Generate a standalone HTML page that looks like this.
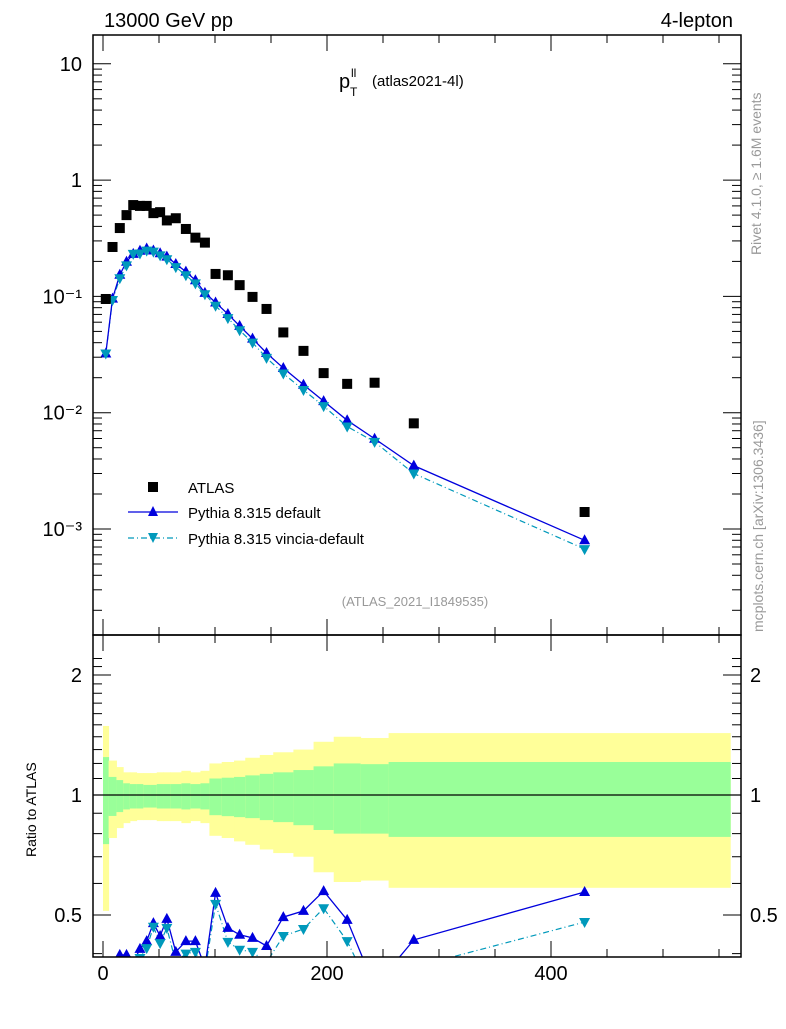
<!DOCTYPE html>
<html><head><meta charset="utf-8"><style>
html,body{margin:0;padding:0;background:#fff;}
svg text{font-family:"Liberation Sans",sans-serif;}
</style></head><body>
<svg id="chart" width="786" height="1024" viewBox="0 0 786 1024" xmlns="http://www.w3.org/2000/svg">
<g id="bands"></g>
<g id="ratio"></g>
<g id="main"></g>
<g id="axes"></g>
<text x="104" y="27" font-size="20">13000 GeV pp</text>
<text x="733" y="27" font-size="20" text-anchor="end">4-lepton</text>
<g>
<text x="339" y="88" font-size="20">p</text>
<text x="351" y="77" font-size="12">ll</text>
<text x="350" y="96" font-size="12">T</text>
<text x="372" y="86" font-size="15">(atlas2021-4l)</text>
</g>
<text x="415" y="606" font-size="13" fill="#999" text-anchor="middle">(ATLAS_2021_I1849535)</text>
<text transform="translate(761,255) rotate(-90)" font-size="14" fill="#999">Rivet 4.1.0, ≥ 1.6M events</text>
<text transform="translate(763,632) rotate(-90)" font-size="14" fill="#999">mcplots.cern.ch [arXiv:1306.3436]</text>
<text transform="translate(36,857) rotate(-90)" font-size="14">Ratio to ATLAS</text>
<g>
<rect x="148" y="482" width="10" height="10" fill="#000"/>
<text x="188" y="493" font-size="15">ATLAS</text>
<line x1="128" y1="512" x2="178" y2="512" stroke="#0000dd" stroke-width="1.3"/>
<polygon points="153,506 158,516 148,516" fill="#0000dd"/>
<text x="188" y="518" font-size="15">Pythia 8.315 default</text>
<line x1="128" y1="538" x2="178" y2="538" stroke="#0099bb" stroke-width="1.3" stroke-dasharray="6,3,1,3"/>
<polygon points="148,533 158,533 153,543" fill="#0099bb"/>
<text x="188" y="544" font-size="15">Pythia 8.315 vincia-default</text>
</g>
</svg>
<script>
const binEdges=[0,5,12,18,24,30,36,42,48,54,60,70,78,87,95,106,117,127,140,152,170,188,206,230,255,300,560];
const xCenters=[2.5,8.5,15,21,27,33,39,45,51,57,65,74,82.5,91,100.5,111.5,122,133.5,146,161,179,197,218,242.5,277.5,430];
const atlasValues=[0.095,0.266,0.387,0.50,0.61,0.60,0.60,0.52,0.53,0.45,0.47,0.38,0.32,0.29,0.156,0.152,0.125,0.099,0.078,0.049,0.034,0.0219,0.0177,0.0181,0.0081,0.0014];
const defaultRatio=[0.34,0.36,0.397,0.397,0.38,0.411,0.43,0.477,0.443,0.489,0.404,0.43,0.43,0.37,0.568,0.464,0.446,0.438,0.418,0.494,0.512,0.574,0.486,0.33,0.433,0.571];
const vinciaRatio=[0.34,0.35,0.37,0.37,0.38,0.39,0.413,0.467,0.425,0.464,0.38,0.40,0.404,0.36,0.533,0.428,0.409,0.404,0.38,0.443,0.461,0.52,0.43,0.31,0.37,0.48];
const yellowUp=[1.49,1.22,1.175,1.14,1.14,1.135,1.135,1.135,1.14,1.14,1.14,1.15,1.14,1.15,1.20,1.21,1.22,1.24,1.26,1.28,1.30,1.36,1.40,1.39,1.43,1.43];
const greenUp=[1.245,1.11,1.09,1.07,1.065,1.065,1.06,1.06,1.065,1.065,1.065,1.07,1.065,1.07,1.10,1.105,1.11,1.12,1.13,1.14,1.155,1.18,1.20,1.195,1.21,1.21];
const greenDown=[0.753,0.886,0.906,0.92,0.925,0.925,0.93,0.93,0.925,0.925,0.925,0.92,0.925,0.92,0.89,0.885,0.88,0.875,0.865,0.855,0.84,0.817,0.80,0.80,0.785,0.785];
const yellowDown=[0.512,0.78,0.826,0.85,0.86,0.865,0.865,0.865,0.86,0.86,0.86,0.85,0.86,0.85,0.79,0.78,0.765,0.75,0.73,0.715,0.70,0.64,0.605,0.61,0.585,0.585];
const xTicks=[0,200,400];
const mainTicks=[[10,"10"],[1,"1"],[0.1,"10⁻¹"],[0.01,"10⁻²"],[0.001,"10⁻³"]];
const ratioTicks=[[2,"2"],[1,"1"],[0.5,"0.5"]];

const NS="http://www.w3.org/2000/svg";
const L=93,R=741,T=35,MB=635,RB=957;
const X=v=>103+v*1.12;
const Y=v=>529-(Math.log10(v)+3)*116.3;
const YR=v=>795-Math.log10(v)*398.6;
function mk(tag,attrs,parent){const e=document.createElementNS(NS,tag);for(const k in attrs)e.setAttribute(k,attrs[k]);parent.appendChild(e);return e;}
const bands=document.getElementById('bands'),ratio=document.getElementById('ratio'),main=document.getElementById('main'),axes=document.getElementById('axes');

const defs=mk('defs',{},document.getElementById('chart'));
const cp=mk('clipPath',{id:'rclip'},defs);mk('rect',{x:L,y:MB,width:R-L,height:RB-MB},cp);
const cp2=mk('clipPath',{id:'mclip'},defs);mk('rect',{x:L,y:T,width:R-L,height:MB-T},cp2);
ratio.setAttribute('clip-path','url(#rclip)');
main.setAttribute('clip-path','url(#mclip)');

for(let i=0;i<xCenters.length;i++){
  const x0=X(binEdges[i]),x1=X(binEdges[i+1]);
  let r=mk('rect',{x:x0,y:YR(yellowUp[i]),width:x1-x0+0.5,height:YR(yellowDown[i])-YR(yellowUp[i]),fill:'#ffff99'},bands);
  
  
  r=mk('rect',{x:x0,y:YR(greenUp[i]),width:x1-x0+0.5,height:YR(greenDown[i])-YR(greenUp[i]),fill:'#99ff99'},bands);
  
  
}
let ln=mk('line',{x1:L,x2:R,y1:YR(1),y2:YR(1),stroke:'#000','stroke-width':1.2},bands);



function tri(g,x,y,up,col,name){
  const p=up?`${x},${y-6} ${x+5.5},${y+4} ${x-5.5},${y+4}`:`${x-5.5},${y-4} ${x+5.5},${y-4} ${x},${y+6}`;
  const e=mk('polygon',{points:p,fill:col},g);
  
  
}
const defVals=atlasValues.map((v,i)=>v*defaultRatio[i]);
const vinVals=atlasValues.map((v,i)=>v*vinciaRatio[i]);
let pl=mk('polyline',{points:xCenters.map((x,i)=>X(x)+','+Y(vinVals[i])).join(' '),fill:'none',stroke:'#0099bb','stroke-width':1.2,'stroke-dasharray':'6,3,1,3'},main);


pl=mk('polyline',{points:xCenters.map((x,i)=>X(x)+','+Y(defVals[i])).join(' '),fill:'none',stroke:'#0000dd','stroke-width':1.3},main);


xCenters.forEach((x,i)=>{tri(main,X(x),Y(defVals[i]),true,'#0000dd','default-point');});
xCenters.forEach((x,i)=>{tri(main,X(x),Y(vinVals[i]),false,'#0099bb','vincia-point');});
xCenters.forEach((x,i)=>{
  const e=mk('rect',{x:X(x)-5,y:Y(atlasValues[i])-5,width:10,height:10,fill:'#000'},main);
  
  
});
pl=mk('polyline',{points:xCenters.map((x,i)=>X(x)+','+YR(vinciaRatio[i])).join(' '),fill:'none',stroke:'#0099bb','stroke-width':1.2,'stroke-dasharray':'6,3,1,3'},ratio);


pl=mk('polyline',{points:xCenters.map((x,i)=>X(x)+','+YR(defaultRatio[i])).join(' '),fill:'none',stroke:'#0000dd','stroke-width':1.3},ratio);


xCenters.forEach((x,i)=>{tri(ratio,X(x),YR(defaultRatio[i]),true,'#0000dd','default-ratio-point');});
xCenters.forEach((x,i)=>{tri(ratio,X(x),YR(vinciaRatio[i]),false,'#0099bb','vincia-ratio-point');});

let f=mk('rect',{x:L,y:T,width:R-L,height:MB-T,fill:'none',stroke:'#000','stroke-width':1.5},axes);


f=mk('rect',{x:L,y:MB,width:R-L,height:RB-MB,fill:'none',stroke:'#000','stroke-width':1.5},axes);


for(let v=0;v<=550;v+=50){
  const major=v%200===0, len=major?16:8;
  for(const [top,bot] of [[T,MB],[MB,RB]]){
    mk('line',{x1:X(v),x2:X(v),y1:top,y2:top+len,stroke:'#000'},axes);
    mk('line',{x1:X(v),x2:X(v),y1:bot,y2:bot-len,stroke:'#000'},axes);
  }
}
xTicks.forEach(v=>{
  const t=mk('text',{x:X(v),y:980,'font-size':20,'text-anchor':'middle'},axes);t.textContent=v;
  
  
});
for(let e=-4;e<=1;e++){
  for(let m=1;m<10;m++){
    const v=m*Math.pow(10,e),y=Y(v);
    if(y<T||y>MB)continue;
    const len=m===1?18:9;
    mk('line',{x1:L,x2:L+len,y1:y,y2:y,stroke:'#000'},axes);
    mk('line',{x1:R,x2:R-len,y1:y,y2:y,stroke:'#000'},axes);
  }
}
mainTicks.forEach(([v,s])=>{
  const t=mk('text',{x:82,y:Y(v)+7,'font-size':20,'text-anchor':'end'},axes);t.textContent=s;
  
  
});
[0.4,0.5,0.6,0.7,0.8,0.9,1,1.1,1.2,1.3,1.4,1.5,1.6,1.7,1.8,1.9,2,2.1,2.2].forEach(v=>{
  const y=YR(v);if(y<MB||y>RB)return;
  const len=(v===0.5||v===1||v===2)?18:9;
  mk('line',{x1:L,x2:L+len,y1:y,y2:y,stroke:'#000'},axes);
  mk('line',{x1:R,x2:R-len,y1:y,y2:y,stroke:'#000'},axes);
});
ratioTicks.forEach(([v,s])=>{
  let t=mk('text',{x:82,y:YR(v)+7,'font-size':20,'text-anchor':'end'},axes);t.textContent=s;
  
  
  t=mk('text',{x:750,y:YR(v)+7,'font-size':20},axes);t.textContent=s;
  
  
});
</script>
</body></html>
